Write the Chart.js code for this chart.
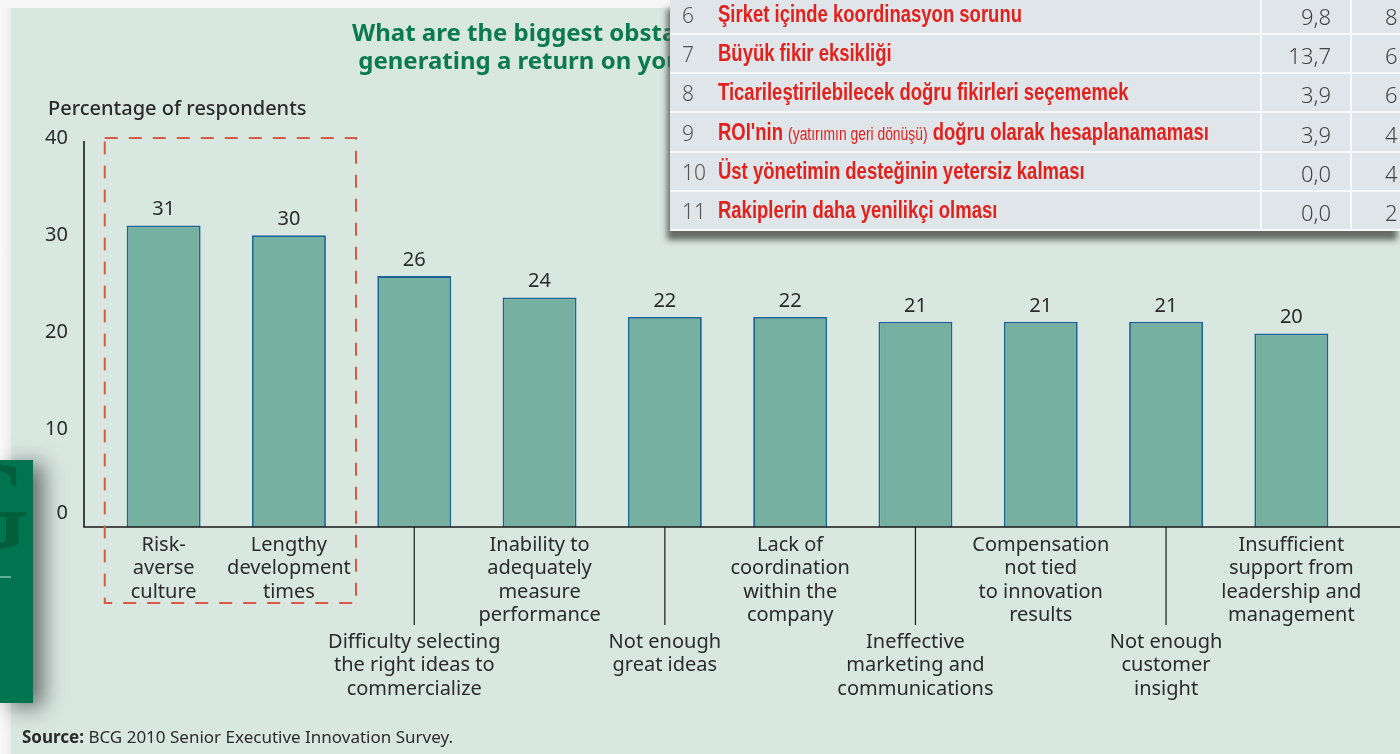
<!DOCTYPE html>
<html>
<head>
<meta charset="utf-8">
<script src="https://cdn.jsdelivr.net/npm/chart.js@4/dist/chart.umd.min.js"></script>
<style>
  body { margin: 0; width: 1400px; height: 754px; overflow: hidden; position: relative;
         background: #d9e7e1; font-family: "Noto Sans", sans-serif; }
  #edge { position: absolute; left: 0; top: 0; width: 11px; height: 754px;
          background: linear-gradient(to right, #fafafa, #eceeed); }
  #topedge { position: absolute; left: 0; top: 0; width: 1400px; height: 8px; background: #f5f6f5; }
  #chart { position: absolute; left: 0; top: 0; }
  #title { position: absolute; left: 352px; top: 18px; color: #0b7a4f; font-weight: bold;
           font-size: 24px; line-height: 28px; white-space: nowrap; }
  #ytitle { position: absolute; left: 48px; top: 94px; font-size: 20px; color: #2b2b2b; font-weight: 500; }
  #source { position: absolute; left: 22px; top: 725px; font-size: 17px; color: #2b2b2b; }
  #logo { position: absolute; left: 0; top: 460px; width: 33px; height: 243px; background: #00734f;
          overflow: hidden; box-shadow: 10px 4px 22px rgba(0,0,0,0.55); }
  #logo .g { position: absolute; left: -62px; top: -18px; font-family: "Liberation Serif", serif;
             font-size: 128px; line-height: 1; color: #035f3b; }
  #logo .dash { position: absolute; left: 0; top: 116px; width: 11px; height: 2px; background: #5fae95; }
  #table { position: absolute; left: 670px; top: 0; width: 730px; height: 231px; background: #dfe5e9;
           box-shadow: -3px 9px 6px rgba(80,86,80,0.85); overflow: hidden; z-index: 2; }
  .row { position: absolute; left: 0; width: 730px; height: 37px; border-bottom: 2px solid #f6f8f9; }
  .num { position: absolute; left: 12px; top: 5px; font-family: "Noto Sans", sans-serif; font-weight: 300;
         font-size: 21px; color: #555; }
  .txt { position: absolute; left: 48px; top: 4px; font-family: "Liberation Sans", sans-serif;
         font-weight: bold; font-size: 24px; color: #e3211c; white-space: nowrap;
         transform: scaleX(0.77); transform-origin: 0 0; }
  .txt small { font-weight: normal; font-size: 18px; }
  .val { position: absolute; left: 591px; width: 70px; top: 5px; text-align: right; font-size: 22px;
         font-weight: 300; color: #444; }
  .val2 { position: absolute; left: 715px; top: 5px; font-size: 22px; font-weight: 300; color: #444; }
  .vline { position: absolute; top: 0; width: 2px; height: 231px; background: #f6f8f9; }
</style>
</head>
<body>
<div id="edge"></div>
<div id="topedge"></div>
<canvas id="chart" width="1400" height="754"></canvas>
<div id="title">What are the biggest obstacles your company faces in<br>&nbsp;generating a return on your innovation investments?</div>
<div id="ytitle">Percentage of respondents</div>
<div id="table"></div>
<div id="logo"><span class="g">G</span><div class="dash"></div></div>
<div id="source"><b>Source:</b> BCG 2010 Senior Executive Innovation Survey.</div>
<script>
// bar chart data
const categories = [
  ['Risk-', 'averse', 'culture'],
  ['Lengthy', 'development', 'times'],
  ['Difficulty selecting', 'the right ideas to', 'commercialize'],
  ['Inability to', 'adequately', 'measure', 'performance'],
  ['Not enough', 'great ideas'],
  ['Lack of', 'coordination', 'within the', 'company'],
  ['Ineffective', 'marketing and', 'communications'],
  ['Compensation', 'not tied', 'to innovation', 'results'],
  ['Not enough', 'customer', 'insight'],
  ['Insufficient', 'support from', 'leadership and', 'management']
];
const values = [31, 30, 25.8, 23.6, 21.6, 21.6, 21.1, 21.1, 21.1, 19.9];
const yTicks = [0, 10, 20, 30, 40];

// overlaid table (cropped)
const tableNums = ['6', '7', '8', '9', '10', '11'];
const tableItems = [
  'Şirket içinde koordinasyon sorunu',
  'Büyük fikir eksikliği',
  'Ticarileştirilebilecek doğru fikirleri seçememek',
  'ROI\'nin <small>(yatırımın geri dönüşü)</small> doğru olarak hesaplanamaması',
  'Üst yönetimin desteğinin yetersiz kalması',
  'Rakiplerin daha yenilikçi olması'
];
const tableVals = ['9,8', '13,7', '3,9', '3,9', '0,0', '0,0'];
const tableVals2 = ['8', '6', '6', '4', '4', '2'];

var table = document.getElementById('table');
var html = '<div class="vline" style="left:590px"></div><div class="vline" style="left:680px"></div>';
for (var i = 0; i < tableNums.length; i++) {
  html += '<div class="row" style="top:' + (i * 39.2 - 4) + 'px">' +
    '<span class="num">' + tableNums[i] + '</span>' +
    '<span class="txt">' + tableItems[i] + '</span>' +
    '<span class="val">' + tableVals[i] + '</span>' +
    '<span class="val2">' + tableVals2[i] + '</span></div>';
}
table.innerHTML = html;

const textColor = '#2b2b2b';
const font = '"Noto Sans", sans-serif';

const decorPlugin = {
  id: 'decor',
  afterDatasetsDraw(chart) {
    var ctx = chart.ctx, area = chart.chartArea;
    var xs = chart.scales.x, ys = chart.scales.y;
    var step = xs.getPixelForValue(1) - xs.getPixelForValue(0);
    var axisX = area.left - 17;
    ctx.save();
    // axes
    ctx.strokeStyle = '#1a1a1a';
    ctx.lineWidth = 1.6;
    ctx.beginPath();
    ctx.moveTo(axisX, area.top + 3);
    ctx.lineTo(axisX, area.bottom);
    ctx.lineTo(chart.width, area.bottom);
    ctx.stroke();

    // y tick labels
    ctx.fillStyle = textColor;
    ctx.font = '20px ' + font;
    ctx.textAlign = 'right';
    ctx.textBaseline = 'middle';
    yTicks.forEach(function (t) {
      var y = ys.getPixelForValue(t);
      if (t === 0) y -= 14;
      ctx.fillText(String(t), 68, y);
    });

    // value labels
    ctx.textAlign = 'center';
    var meta = chart.getDatasetMeta(0);
    meta.data.forEach(function (bar, i) {
      ctx.fillText(String(Math.round(values[i])), bar.x, bar.y - 16);
    });

    // category labels, alternating rows with leader lines
    categories.forEach(function (lines, i) {
      var x = xs.getPixelForValue(i);
      var lower = i >= 2 && i % 2 === 0;
      var y0 = lower ? area.bottom + 115 : area.bottom + 18;
      if (lower) {
        ctx.beginPath();
        ctx.moveTo(x, area.bottom);
        ctx.lineTo(x, area.bottom + 98);
        ctx.lineWidth = 1.2;
        ctx.stroke();
      }
      lines.forEach(function (s, k) {
        ctx.fillText(s, x, y0 + k * 23.5);
      });
    });

    // dashed highlight box around first two categories
    ctx.strokeStyle = '#d65a45';
    ctx.lineWidth = 2;
    ctx.setLineDash([13, 11]);
    var left = xs.getPixelForValue(0) - step * 0.47;
    var right = xs.getPixelForValue(1) + step * 0.535;
    ctx.strokeRect(left, ys.getPixelForValue(40), right - left, area.bottom + 76 - ys.getPixelForValue(40));
    ctx.restore();
  }
};

new Chart(document.getElementById('chart').getContext('2d'), {
  type: 'bar',
  data: {
    labels: categories.map(function (c) { return c.join(' '); }),
    datasets: [{
      data: values,
      backgroundColor: '#76b0a0',
      borderColor: '#1f6296',
      borderWidth: 1.8,
      categoryPercentage: 1,
      barPercentage: 0.59
    }]
  },
  options: {
    responsive: false,
    animation: false,
    layout: { padding: { left: 101, right: 46, top: 138, bottom: 227 } },
    plugins: { legend: { display: false }, tooltip: { enabled: false }, title: { display: false } },
    scales: {
      x: { display: false },
      y: { display: false, min: 0, max: 40 }
    }
  },
  plugins: [decorPlugin]
});
</script>
</body>
</html>
